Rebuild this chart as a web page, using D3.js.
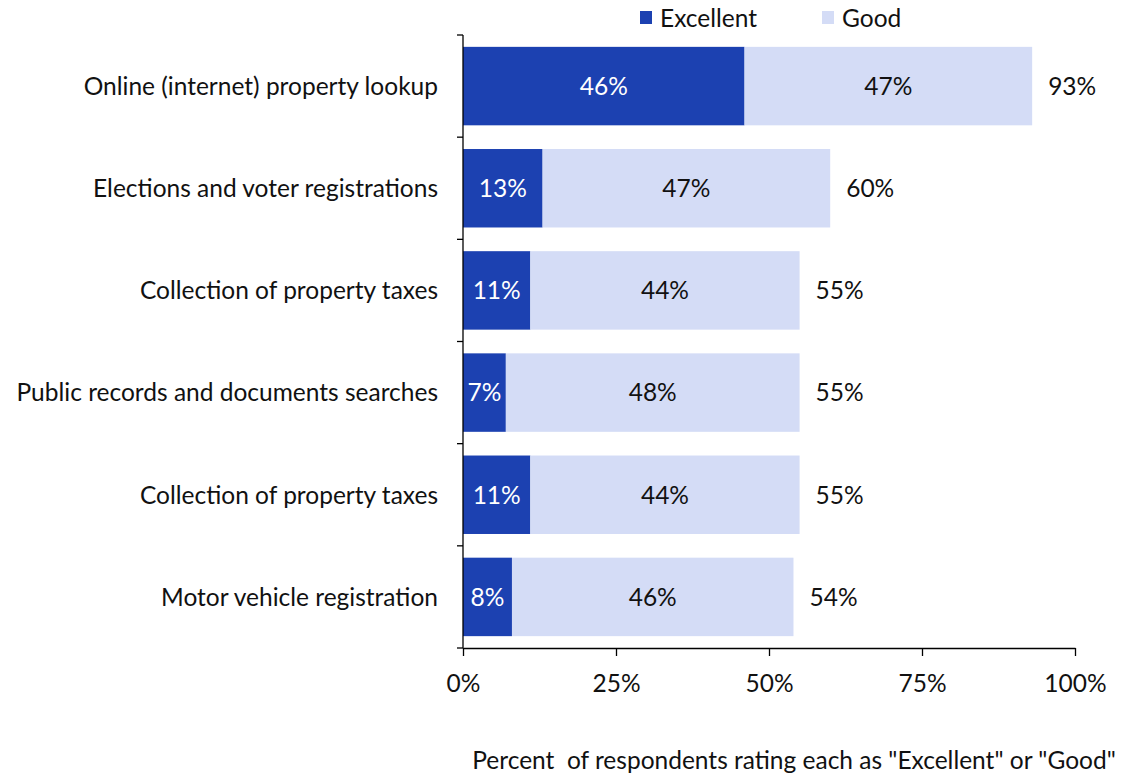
<!DOCTYPE html>
<html>
<head>
<meta charset="utf-8">
<script src="https://cdn.jsdelivr.net/npm/d3@7"></script>
<style>
  html, body { margin: 0; padding: 0; background: #fff; }
  svg text { font-family: Lato, "Open Sans", sans-serif; white-space: pre; }
</style>
</head>
<body>
<svg id="chart" width="1132" height="776"></svg>
<script>
// Survey ratings of county services, percent of respondents
const categories = [
  "Online (internet) property lookup",
  "Elections and voter registrations",
  "Collection of property taxes",
  "Public records and documents searches",
  "Collection of property taxes ",
  "Motor vehicle registration"
];
const excellent = [46, 13, 11, 7, 11, 8];
const good = [47, 47, 44, 48, 44, 46];
const totals = [93, 60, 55, 55, 55, 54];
const seriesNames = ["Excellent", "Good"];
const xTicks = [0, 25, 50, 75, 100];
const axisTitle = "Percent  of respondents rating each as \"Excellent\" or \"Good\"";

const colors = { Excellent: "#1c41b1", Good: "#d4dcf6" };
const fontSize = 24.5;

const svg = d3.select("#chart");
const margin = { top: 35, left: 463, right: 57, bottom: 128 };
const width = 1132 - margin.left - margin.right;
const height = 776 - margin.top - margin.bottom;

const x = d3.scaleLinear().domain([0, 100]).range([0, width]);
const y = d3.scaleBand().domain(categories).range([0, height]).paddingInner(0.232).paddingOuter(0.116);

const g = svg.append("g").attr("transform", `translate(${margin.left},${margin.top})`);

const rows = categories.map((c, i) => ({ cat: c, ex: excellent[i], gd: good[i], total: totals[i] }));

// stacked segments with their values
const stack = d3.stack().keys(["ex", "gd"])(rows);
stack.forEach((layer, li) => {
  const name = seriesNames[li];
  g.append("g").selectAll("rect").data(layer).join("rect")
    .attr("x", d => x(d[0]))
    .attr("width", d => x(d[1]) - x(d[0]))
    .attr("y", d => y(d.data.cat))
    .attr("height", y.bandwidth())
    .attr("fill", colors[name]);
  g.append("g").selectAll("text").data(layer).join("text")
    .attr("x", d => (x(d[0]) + x(d[1])) / 2)
    .attr("y", d => y(d.data.cat) + y.bandwidth() / 2)
    .attr("dy", "0.36em")
    .attr("text-anchor", "middle")
    .attr("font-size", fontSize)
    .attr("fill", li === 0 ? "#ffffff" : "#111111")
    .text(d => (d[1] - d[0]) + "%");
});

// total labels beyond each bar
g.append("g").selectAll("text").data(rows).join("text")
  .attr("x", d => x(d.total) + 16)
  .attr("y", d => y(d.cat) + y.bandwidth() / 2)
  .attr("dy", "0.36em")
  .attr("font-size", fontSize)
  .attr("fill", "#111111")
  .text(d => d.total + "%");

// category axis
const yAxis = g.append("g").call(d3.axisLeft(y).tickSize(0).tickPadding(25).tickFormat(d => d.trim()));
yAxis.select(".domain").remove();
yAxis.selectAll("text").attr("font-size", fontSize).attr("fill", "#111").attr("font-family", null).attr("dy", "0.36em");
g.append("line").attr("x1", 0).attr("x2", 0).attr("y1", 0).attr("y2", height).attr("stroke", "#000").attr("stroke-width", 1.3);
// separators between categories
const bounds = d3.range(categories.length + 1).map(i => i * height / categories.length);
g.append("g").selectAll("line").data(bounds).join("line")
  .attr("x1", -6).attr("x2", 0).attr("y1", d => d).attr("y2", d => d)
  .attr("stroke", "#000").attr("stroke-width", 1.3);

// value axis
const xAxis = g.append("g").attr("transform", `translate(0,${height})`)
  .call(d3.axisBottom(x).tickValues(xTicks).tickSize(8).tickSizeOuter(0).tickPadding(20).tickFormat(d => d + "%"));
xAxis.select(".domain").attr("stroke", "#000").attr("stroke-width", 1.3);
xAxis.selectAll(".tick line").attr("stroke", "#000").attr("stroke-width", 1.3);
xAxis.selectAll("text").attr("font-size", fontSize).attr("fill", "#111").attr("font-family", null).attr("dy", "0.65em");

// axis title
svg.append("text")
  .attr("x", 794).attr("y", 769)
  .attr("text-anchor", "middle")
  .attr("font-size", fontSize)
  .attr("fill", "#111")
  .text(axisTitle);

// legend
const legend = svg.append("g").attr("transform", "translate(640,11)");
const legendX = [0, 182];
seriesNames.forEach((name, i) => {
  const item = legend.append("g").attr("transform", `translate(${legendX[i]},0)`);
  item.append("rect").attr("width", 12).attr("height", 13).attr("fill", colors[name]);
  item.append("text").attr("x", 20).attr("y", 7).attr("dy", "0.36em")
    .attr("font-size", fontSize).attr("fill", "#111").text(name);
});
</script>
</body>
</html>
